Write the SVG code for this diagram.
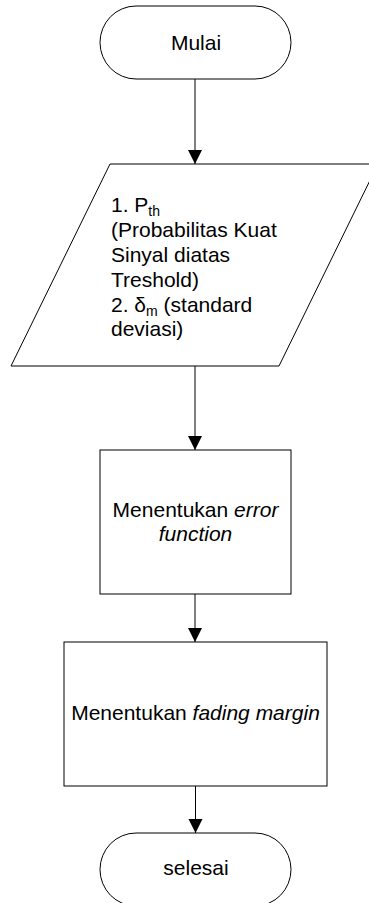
<svg xmlns="http://www.w3.org/2000/svg" width="369" height="903" viewBox="0 0 369 903">
<style>
.s{fill:#fff;stroke:#000;stroke-width:1}
.t{font-family:"Liberation Sans",Arial,Helvetica,sans-serif;font-size:21px;fill:#000}
.c{stroke:#000;stroke-width:1;fill:none}
.i{font-style:italic}
.sub{font-size:14px}
</style>
<defs>
<marker id="ah" markerUnits="userSpaceOnUse" markerWidth="14" markerHeight="16" refX="14" refY="7" orient="auto">
<path d="M0,0 L14,7 L0,14 Z" fill="#000"/>
</marker>
</defs>
<g id="connectors">
<path class="c" d="M195,79 V164" marker-end="url(#ah)"/>
<path class="c" d="M195,366 V450" marker-end="url(#ah)"/>
<path class="c" d="M195,594 V642" marker-end="url(#ah)"/>
<path class="c" d="M195.5,786 V833" marker-end="url(#ah)"/>
</g>
<g id="mulai">
<path class="s" d="M136,6 H255 A36,36.5 0 0 1 255,79 H136 A36,36.5 0 0 1 136,6 Z"/>
<text class="t" x="196" y="50" text-anchor="middle">Mulai</text>
</g>
<g id="input">
<path class="s" d="M110,164 H378 L279,366 H11 Z"/>
<text class="t" x="111" y="212">1. P<tspan class="sub" dy="4">th</tspan></text>
<text class="t" x="111" y="237">(Probabilitas Kuat</text>
<text class="t" x="111" y="262">Sinyal diatas</text>
<text class="t" x="111" y="287">Treshold)</text>
<text class="t" x="111" y="311.5">2. δ<tspan class="sub" dy="4">m</tspan><tspan dy="-4"> (standard</tspan></text>
<text class="t" x="111" y="336">deviasi)</text>
</g>
<g id="error-function">
<rect class="s" x="100" y="450" width="191" height="144"/>
<text class="t" x="195.5" y="516.5" text-anchor="middle">Menentukan <tspan class="i">error</tspan></text>
<text class="t" x="195.5" y="540.5" text-anchor="middle" font-style="italic">function</text>
</g>
<g id="fading-margin">
<rect class="s" x="64" y="642" width="263" height="144"/>
<text class="t" x="195.5" y="720" text-anchor="middle">Menentukan <tspan class="i">fading margin</tspan></text>
</g>
<g id="selesai">
<path class="s" d="M136,833 H255 A36,36.5 0 0 1 255,906 H136 A36,36.5 0 0 1 136,833 Z"/>
<text class="t" x="196" y="875" text-anchor="middle">selesai</text>
</g>
</svg>
